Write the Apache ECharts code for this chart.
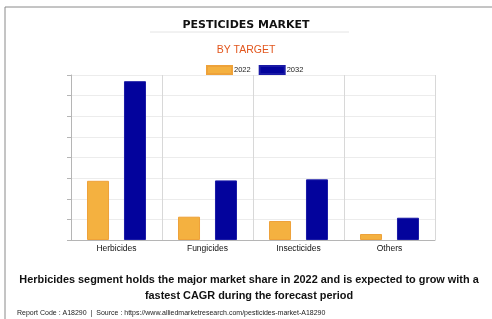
<!DOCTYPE html>
<html>
<head>
<meta charset="utf-8">
<script src="https://cdn.jsdelivr.net/npm/echarts@6/dist/echarts.min.js"></script>
<style>
  html, body { margin: 0; padding: 0; background: #fff; }
  #chart { width: 492px; height: 319px; }
</style>
</head>
<body>
<div id="chart"></div>
<script>
// 数据
const categories = ['Herbicides', 'Fungicides', 'Insecticides', 'Others']
const years = ['2022', '2032']
const values2022 = [2.87, 1.13, 0.92, 0.29]
const values2032 = [7.7, 2.89, 2.94, 1.08]

const myChart = echarts.init(document.getElementById('chart'))

const chartOption = {
  animation: false,
  textStyle: { fontFamily: 'Liberation Sans, Arial, sans-serif' },
  title: [
    {
      text: 'PESTICIDES MARKET',
      left: 'center', top: 15,
      textStyle: { fontSize: 11, fontWeight: 900, color: '#111', fontFamily: 'DejaVu Sans' }
    },
    {
      text: 'BY TARGET',
      left: 'center', top: 40,
      textStyle: { fontSize: 10.5, fontWeight: 'normal', color: '#e2561d' }
    },
    {
      text: 'Report Code : A18290  |  Source : https://www.alliedmarketresearch.com/pesticides-market-A18290',
      left: 12, top: 305,
      textStyle: { fontSize: 7, fontWeight: 'normal', color: '#222' }
    }
  ],
  graphic: [
    {
      type: 'rect',
      shape: { x: 5, y: 7, width: 520, height: 340 },
      style: { fill: 'none', stroke: '#8a8a8a', lineWidth: 1 },
      silent: true
    },
    {
      type: 'line',
      shape: { x1: 150, y1: 32, x2: 349, y2: 32 },
      style: { stroke: '#e4e4e4', lineWidth: 1 },
      silent: true
    },
    {
      type: 'text',
      x: 249, y: 272,
      silent: true,
      style: {
        text: 'Herbicides segment holds the major market share in 2022 and is expected to grow with a\nfastest CAGR during the forecast period',
        align: 'center',
        verticalAlign: 'top',
        font: 'bold 10.9px "Liberation Sans", Arial, sans-serif',
        lineHeight: 16,
        fill: '#111'
      }
    }
  ],
  legend: {
    data: years,
    left: 201, top: 60,
    itemWidth: 25, itemHeight: 8, itemGap: 8,
    icon: 'rect',
    textStyle: { fontSize: 7.5, color: '#222', padding: [0, 0, 0, -3] }
  },
  grid: {
    left: 71, right: 57, top: 75, bottom: 79,
    show: false
  },
  xAxis: {
    type: 'category',
    data: categories,
    axisTick: { show: false },
    axisLine: { lineStyle: { color: '#b5b5b5' } },
    splitLine: { show: true, lineStyle: { color: '#d8d8d8' } },
    axisLabel: { fontSize: 8.5, color: '#111', margin: 4 }
  },
  yAxis: {
    type: 'value',
    min: 0, max: 8, interval: 1,
    axisLabel: { show: false },
    axisLine: { show: true, lineStyle: { color: '#b5b5b5' } },
    axisTick: { show: true, length: 4, lineStyle: { color: '#b5b5b5' } },
    splitLine: { lineStyle: { color: '#ececec' } }
  },
  series: [
    {
      name: '2022',
      type: 'bar',
      data: values2022,
      barWidth: 22,
      barGap: '68%',
      itemStyle: { color: '#f4b140', borderColor: '#eea23a', borderWidth: 1 }
    },
    {
      name: '2032',
      type: 'bar',
      data: values2032,
      barWidth: 22,
      itemStyle: { color: '#03039c', borderColor: '#1a1aa6', borderWidth: 1 }
    }
  ]
}

myChart.setOption(chartOption)
window.addEventListener('resize', myChart.resize)
</script>
</body>
</html>
